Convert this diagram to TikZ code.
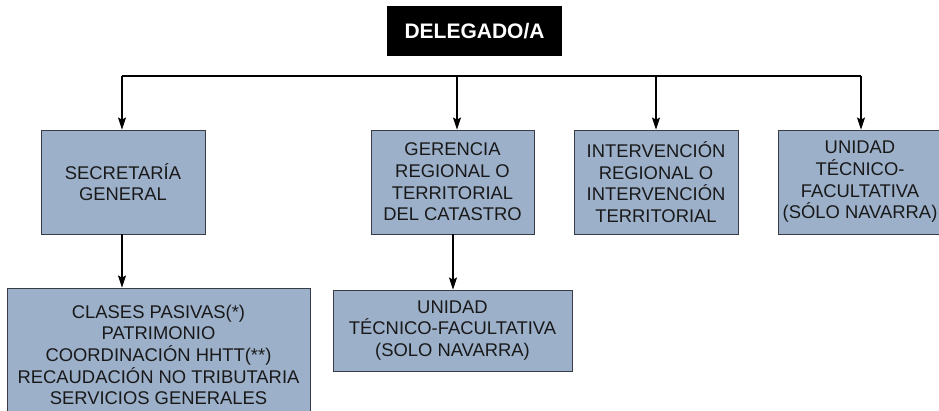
\documentclass[tikz,border=0pt]{standalone}
\usepackage{fontspec}
\setmainfont{Liberation Sans}
\usetikzlibrary{arrows.meta}
\definecolor{boxfill}{RGB}{156,176,202}
\definecolor{boxline}{RGB}{55,60,70}
\definecolor{txt}{RGB}{25,25,25}
\tikzset{
  unitbox/.style={draw=boxline, line width=0.9pt, fill=boxfill, text=txt,
    align=center, inner sep=0pt, font=\fontsize{18.4}{21.7}\selectfont},
  topbox/.style={fill=black, text=white, inner sep=0pt,
    font=\fontsize{21}{24}\selectfont\bfseries},
  link/.style={draw=black, line width=1.2pt},
  arr/.style={link, -{Stealth[length=12pt,width=8pt,inset=2pt]}}
}
\begin{document}
\begin{tikzpicture}[x=1pt,y=1pt]
\useasboundingbox[fill=white] (0,0) rectangle (939,411);
% top
\node[topbox, minimum width=175, minimum height=50] (del) at (474.5,380) {DELEGADO/A};
% first level
\node[unitbox, minimum width=164, minimum height=104] (sg) at (123,229) {SECRETARÍA\\GENERAL};
\node[unitbox, minimum width=163, minimum height=104] (ger) at (452.5,229) {GERENCIA\\REGIONAL O\\TERRITORIAL\\DEL CATASTRO};
\node[unitbox, minimum width=164, minimum height=104] (int) at (656,229) {INTERVENCIÓN\\REGIONAL O\\INTERVENCIÓN\\TERRITORIAL};
\node[unitbox, minimum width=164, minimum height=104] (uni) at (860,229) {UNIDAD\\TÉCNICO-\\FACULTATIVA\\(SÓLO NAVARRA)};
% second level
\node[unitbox, minimum width=303, minimum height=134] (cla) at (158.5,56) {CLASES PASIVAS(*)\\PATRIMONIO\\COORDINACIÓN HHTT(**)\\RECAUDACIÓN NO TRIBUTARIA\\SERVICIOS GENERALES};
\node[unitbox, minimum width=239, minimum height=81] (uni2) at (452.5,80.5) {UNIDAD\\TÉCNICO-FACULTATIVA\\(SOLO NAVARRA)};
% bus
\coordinate (b1) at (122,335);
\coordinate (b2) at (457,335);
\coordinate (b3) at (656,335);
\coordinate (b4) at (861,335);
\draw[link] (b1) -- (b4);
\draw[arr] (b1) -- (b1 |- sg.north);
\draw[arr] (b2) -- (b2 |- ger.north);
\draw[arr] (b3) -- (b3 |- int.north);
\draw[arr] (b4) -- (b4 |- uni.north);
% second level links
\draw[arr] (sg.south -| b1) -- (b1 |- cla.north);
\coordinate (g2) at (453,0);
\draw[arr] (ger.south -| g2) -- (g2 |- uni2.north);
\end{tikzpicture}
\end{document}
